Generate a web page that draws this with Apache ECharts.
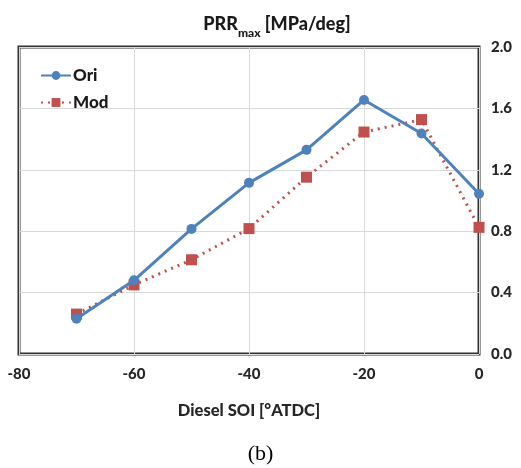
<!DOCTYPE html>
<html>
<head>
<meta charset="utf-8">
<script src="https://cdn.jsdelivr.net/npm/echarts@6/dist/echarts.min.js"></script>
<style>html,body{margin:0;padding:0;background:#fff}#c{width:521px;height:468px}</style>
</head>
<body>
<div id="c"></div>
<script>
const xValues = [-70, -60, -50, -40, -30, -20, -10, 0];
const oriValues = [0.23, 0.48, 0.815, 1.115, 1.33, 1.655, 1.436, 1.044];
const modValues = [0.26, 0.45, 0.614, 0.817, 1.152, 1.446, 1.527, 0.825];
const seriesNames = ['Ori', 'Mod'];
const xAxisTitle = 'Diesel SOI [°ATDC]';
const caption = '(b)';

const font = 'Lato, "Open Sans", sans-serif';
const chart = echarts.init(document.getElementById('c'));
chart.setOption({
  animation: false,
  backgroundColor: '#fff',
  title: {
    text: '{a|PRR}{b|max}{a| [MPa/deg]}',
    left: 272, textAlign: 'center', top: 4,
    textStyle: {
      rich: {
        a: {fontFamily: font, fontWeight: 900, fontSize: 18, color: '#1a1a1a', verticalAlign: 'bottom', lineHeight: 24},
        b: {fontFamily: font, fontWeight: 900, fontSize: 12, color: '#1a1a1a', verticalAlign: 'bottom', lineHeight: 16, padding: [0,0,-6,0]}
      }
    }
  },
  grid: {left: 19, right: 42, top: 47, bottom: 114, show: true, borderColor: '#333', borderWidth: 3, backgroundColor: 'transparent'},
  legend: {
    left: 35, top: 62, orient: 'vertical', itemGap: 10, itemWidth: 30, itemHeight: 11,
    textStyle: {fontFamily: font, fontWeight: 900, fontSize: 17, color: '#1a1a1a', padding: [0,0,0,-3]},
    data: seriesNames
  },
  xAxis: {
    type: 'value', min: -80, max: 0, interval: 20,
    name: xAxisTitle, nameLocation: 'middle', nameGap: 48,
    nameTextStyle: {fontFamily: font, fontWeight: 900, fontSize: 16.5, color: '#262626'},
    axisLine: {show: false}, axisTick: {show: false},
    axisLabel: {fontFamily: font, fontWeight: 900, fontSize: 15, color: '#262626', margin: 13},
    splitLine: {show: true, lineStyle: {color: '#d9d9d9', width: 1}}
  },
  yAxis: {
    type: 'value', position: 'right', min: 0, max: 2, interval: 0.4,
    axisLine: {show: false}, axisTick: {show: false},
    axisLabel: {fontFamily: font, fontWeight: 900, fontSize: 15, color: '#262626', margin: 12, formatter: v => v.toFixed(1)},
    splitLine: {show: true, lineStyle: {color: '#d9d9d9', width: 1}}
  },
  series: [
    {
      name: seriesNames[0], type: 'line',
      data: xValues.map((x, i) => [x, oriValues[i]]),
      symbol: 'circle', symbolSize: 10,
      lineStyle: {color: '#4f81bd', width: 3},
      itemStyle: {color: '#4f81bd'}, z: 3
    },
    {
      name: seriesNames[1], type: 'line',
      data: xValues.map((x, i) => [x, modValues[i]]),
      symbol: 'rect', symbolSize: 11,
      lineStyle: {color: '#c0504d', width: 3, type: [2, 5]},
      itemStyle: {color: '#c0504d'}, z: 2
    }
  ],
  graphic: [{
    type: 'text', left: 'center', top: 443,
    style: {text: caption, font: '22px "Liberation Serif", serif', fill: '#000'}
  }]
});
</script>
</body>
</html>
